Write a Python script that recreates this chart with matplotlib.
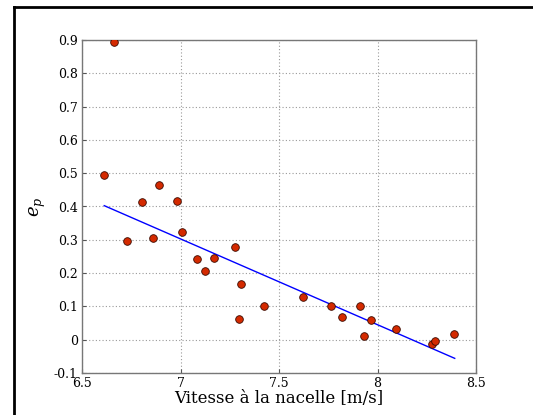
import matplotlib
matplotlib.use("Agg")
import matplotlib.pyplot as plt
from matplotlib.lines import Line2D

vitesse = [6.613, 6.662, 6.730, 6.805, 6.859, 6.889, 6.982, 7.006, 7.085, 7.126,
           7.172, 7.278, 7.295, 7.305, 7.424, 7.620, 7.762, 7.821, 7.909, 7.930,
           7.965, 8.096, 8.277, 8.292, 8.388]
ep = [0.496, 0.893, 0.296, 0.414, 0.304, 0.466, 0.416, 0.322, 0.241, 0.207,
      0.245, 0.277, 0.061, 0.166, 0.100, 0.128, 0.100, 0.068, 0.100, 0.012,
      0.059, 0.033, -0.013, -0.003, 0.018]
fit_x = [6.613, 8.392]
fit_y = [0.4025, -0.056]

xticks = [6.5, 7, 7.5, 8, 8.5]
xticklabels = ["6.5", "7", "7.5", "8", "8.5"]
yticks = [-0.1, 0, 0.1, 0.2, 0.3, 0.4, 0.5, 0.6, 0.7, 0.8, 0.9]
yticklabels = ["-0.1", "0", "0.1", "0.2", "0.3", "0.4", "0.5", "0.6", "0.7", "0.8", "0.9"]

plt.rcParams['font.family'] = ['DejaVu Serif']
plt.rcParams['mathtext.fontset'] = 'dejavuserif'
fig = plt.figure(figsize=(5.33, 4.15), dpi=100)
ax = fig.add_axes([82/533, 1 - 373/415, (476-82)/533, (373-40)/415])

ax.plot(fit_x, fit_y, color='#0000ff', lw=1.0, zorder=2)
ax.plot(vitesse, ep, 'o', markerfacecolor='#d42a00', markeredgecolor='#3a0a00',
        markeredgewidth=0.6, markersize=5.5, zorder=3)

ax.set_xlim(6.5, 8.5)
ax.set_ylim(-0.1, 0.9)
ax.set_xticks(xticks)
ax.set_xticklabels(xticklabels)
ax.set_yticks(yticks)
ax.set_yticklabels(yticklabels)
ax.tick_params(direction='in', labelsize=9, length=3, color='#555555', pad=3)
ax.grid(True, linestyle=(0, (1, 2)), color='#999999', lw=0.8)
for s in ax.spines.values():
    s.set_color('#777777')
    s.set_linewidth(1.0)

ax.set_xlabel("Vitesse à la nacelle [m/s]", fontsize=12, labelpad=0)
ax.set_ylabel(r"$\mathbf{\mathit{e_p}}$", fontsize=13, labelpad=4)

# frame lines (cropped border)
fig.add_artist(Line2D([14/533, 14/533], [0, 1 - 7/415], transform=fig.transFigure, color='black', lw=2))
fig.add_artist(Line2D([14/533, 1], [1 - 7/415, 1 - 7/415], transform=fig.transFigure, color='black', lw=2))

fig.savefig("out.png", dpi=100)
